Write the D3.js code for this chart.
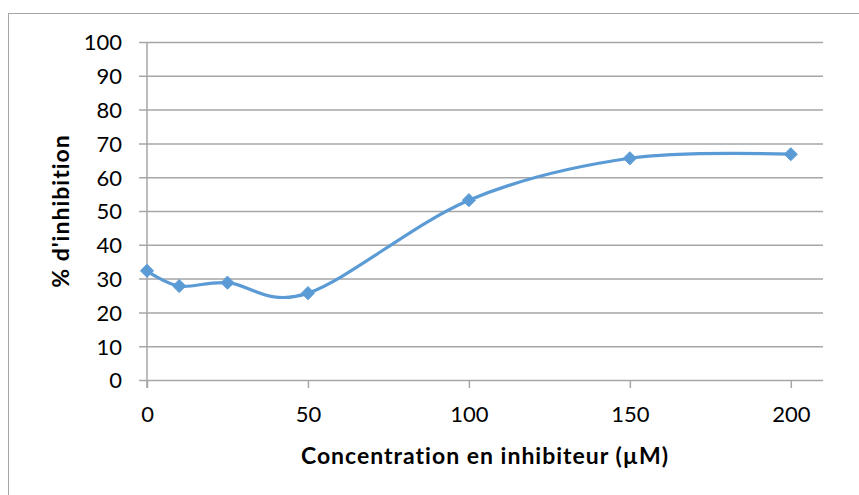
<!DOCTYPE html>
<html>
<head>
<meta charset="utf-8">
<script src="https://cdn.jsdelivr.net/npm/d3@7/dist/d3.min.js"></script>
<style>
  html, body { margin: 0; padding: 0; background: #fff; }
  svg { display: block; }
  text { font-family: Lato, "Open Sans", sans-serif; fill: #000; }
</style>
</head>
<body>
<script>
// Inhibition (%) versus inhibitor concentration (µM)
const concentrations = [0, 10, 25, 50, 100, 150, 200];
const inhibition = [32.3, 27.8, 28.8, 25.7, 53.2, 65.6, 66.8];
const xTicks = [0, 50, 100, 150, 200];
const yTicks = [0, 10, 20, 30, 40, 50, 60, 70, 80, 90, 100];
const xTitle = "Concentration en inhibiteur (µM)";
const yTitle = "% d'inhibition";

const W = 859, H = 495;
const plot = { left: 147, right: 823, top: 42, bottom: 380 };

const svg = d3.select("body").append("svg")
  .attr("width", W).attr("height", H);

// chart frame
svg.append("rect")
  .attr("x", 8.5).attr("y", 13.5)
  .attr("width", W + 10).attr("height", H + 10)
  .attr("fill", "#fff").attr("stroke", "#a6a6a6").attr("stroke-width", 1);

const x = d3.scaleLinear().domain([0, 210]).range([plot.left, plot.right]);
const y = d3.scaleLinear().domain([0, 100]).range([plot.bottom, plot.top]);

const gridColor = "#a6a6a6";

// horizontal gridlines with outer ticks on the left
const yAxis = d3.axisLeft(y).tickValues(yTicks)
  .tickSize(-(plot.right - plot.left)).tickPadding(25).tickSizeOuter(0);
const gy = svg.append("g").attr("transform", `translate(${plot.left},0)`).call(yAxis);
gy.select(".domain").remove();
gy.selectAll(".tick line")
  .attr("x1", -8)
  .attr("stroke", gridColor).attr("stroke-width", 1.5);
gy.selectAll(".tick text").attr("font-size", 22).attr("dy", "0.36em");

// x axis ticks below the baseline
const xAxis = d3.axisBottom(x).tickValues(xTicks).tickSize(8).tickPadding(18).tickSizeOuter(0);
const gx = svg.append("g").attr("transform", `translate(0,${plot.bottom})`).call(xAxis);
gx.select(".domain").remove();
gx.selectAll(".tick line").attr("stroke", gridColor).attr("stroke-width", 1.5);
gx.selectAll(".tick text").attr("font-size", 22);

// vertical value axis line
svg.append("line")
  .attr("x1", plot.left).attr("x2", plot.left)
  .attr("y1", plot.top).attr("y2", plot.bottom + 8)
  .attr("stroke", gridColor).attr("stroke-width", 1.5);

// smoothed series line
const pts = concentrations.map((c, i) => [c, inhibition[i]]);
const line = d3.line()
  .x(d => x(d[0])).y(d => y(d[1]))
  .curve(d3.curveCardinal.tension(0));
svg.append("path")
  .datum(pts)
  .attr("d", line)
  .attr("fill", "none")
  .attr("stroke", "#5b9bd5")
  .attr("stroke-width", 3.2)
  .attr("stroke-linejoin", "round");

// diamond markers
svg.append("g").selectAll("path")
  .data(pts).join("path")
  .attr("transform", d => `translate(${x(d[0])},${y(d[1])})`)
  .attr("d", d3.symbol(d3.symbolDiamond2, 110)())
  .attr("fill", "#5b9bd5")
  .attr("stroke", "#5b9bd5").attr("stroke-width", 1);

// axis titles
svg.append("text")
  .attr("x", (plot.left + plot.right) / 2).attr("y", 464)
  .attr("text-anchor", "middle")
  .attr("font-size", 23).attr("font-weight", "bold")
  .attr("letter-spacing", 1)
  .text(xTitle);

svg.append("text")
  .attr("transform", `translate(69,${(plot.top + plot.bottom) / 2}) rotate(-90)`)
  .attr("text-anchor", "middle")
  .attr("font-size", 23).attr("font-weight", "bold")
  .attr("letter-spacing", 1)
  .text(yTitle);
</script>
</body>
</html>
